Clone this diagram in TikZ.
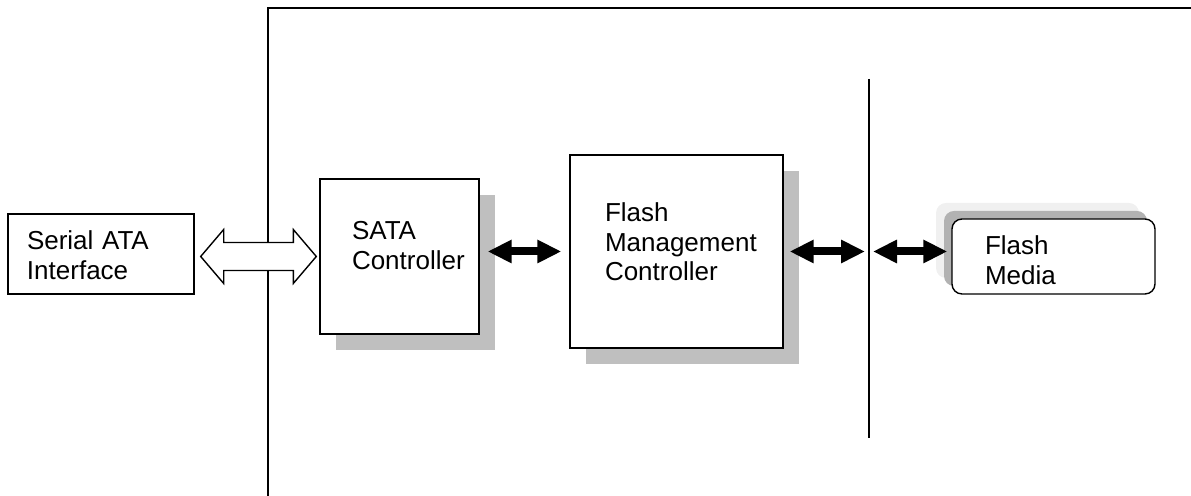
\documentclass[tikz,border=0pt]{standalone}
\usepackage{fontspec}
\newfontfamily\blockfont{Liberation Sans}
\usetikzlibrary{calc}
\usetikzlibrary{positioning, shadows, arrows.meta}

\tikzset{
  block/.style={draw, line width=0.7pt, fill=white, inner xsep=0pt, align=left,
    text height=9pt, font=\blockfont\fontsize{13pt}{14.8pt}\selectfont},
  indent/.style={execute at begin node={\leftskip=#1}},
  grayshadow/.style={drop shadow={shadow xshift=8pt, shadow yshift=-8pt, fill=black!25, opacity=1}},
  link/.style={line width=4pt, {Triangle[length=12pt,width=11pt]}-{Triangle[length=12pt,width=11pt]}},
  hollow/.style={draw, line width=0.7pt, fill=white, line join=miter},
}

\begin{document}
\begin{tikzpicture}[x=0.5pt, y=0.5pt]
  \useasboundingbox (0,0) rectangle (1191,496);

  % outer frame and bus line
  \draw[line width=0.7pt] (268,0) |- (1191,488);
  \coordinate (bus top) at (869,417);
  \coordinate (bus bot) at (869,58);
  \draw[line width=0.7pt] (bus top) -- (bus bot);

  \node [block, text width=93pt, minimum height=40pt, text depth=13.5pt, indent=9.5pt] (sataif) at (101,242) {Serial ATA\\Interface};
  \node [block, grayshadow, text width=79.5pt, minimum height=77.5pt, text depth=26pt, indent=16pt, right=62.3pt of sataif, yshift=-1.25pt] (sata) {SATA\\Controller};
  \node [block, grayshadow, text width=106.5pt, minimum height=96.5pt, text depth=39pt, indent=17.5pt, right=44.8pt of sata, yshift=2.5pt] (fmc) {Flash\\Management\\Controller};
  \node [block, rounded corners=5pt,
    drop shadow={shadow xshift=-8pt, shadow yshift=8pt, fill=black!6, opacity=1},
    drop shadow={shadow xshift=-4pt, shadow yshift=4pt, fill=black!30, opacity=1},
    text width=101.5pt, minimum height=37.5pt, text depth=11pt, indent=16.5pt, right=83.8pt of fmc, yshift=-2.5pt] (media) {Flash\\Media};

  % wide link: interface to controller
  \coordinate (hl) at ($(sataif.east |- sata.west)+(6,0)$);
  \coordinate (hr) at ($(sata.west)+(-3,0)$);
  \draw [hollow] (hl) -- ++(23,27) -- ++(0,-13) -- ($(hr)+(-23,14)$) -- ++(0,13) -- (hr)
    -- ++(-23,-27) -- ++(0,13) -- ($(hl)+(23,-14)$) -- ++(0,-13) -- cycle;

  % links
  \draw [link, shorten <=4pt, shorten >=4pt] (sata.east |- fmc.center) -- (fmc.west);
  \draw [link, shorten <=3pt, shorten >=2pt] (fmc.east) -- (fmc.east -| bus top);
  \draw [link, shorten <=2pt, shorten >=2pt] (fmc.east -| bus top) -- (fmc.east -| media.west);

\end{tikzpicture}
\end{document}
